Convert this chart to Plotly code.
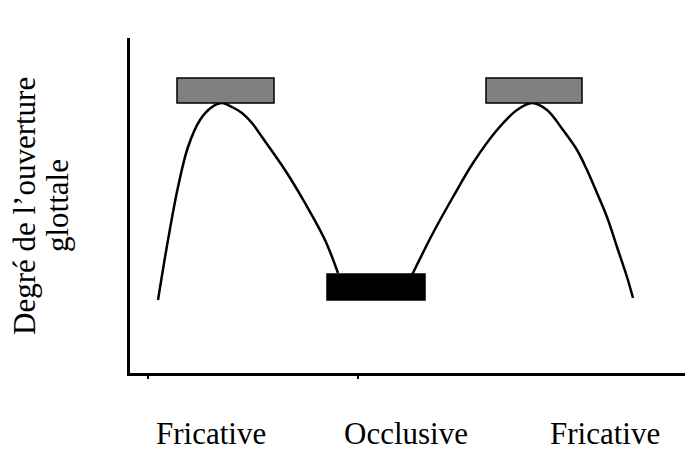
import plotly.graph_objects as go

# Curve points (x: time, y: degree of glottal opening)
left_x = [28, 38, 48, 58, 70, 82, 92, 102, 112, 122, 132, 155, 175, 195, 208]
left_y = [73, 133, 186, 226, 253, 266, 270, 266, 260, 250, 236, 203, 170, 133, 100]
right_x = [282, 303, 323, 343, 367, 387, 402, 417, 433, 447, 457, 467, 477, 487, 497, 503]
right_y = [98, 140, 176, 210, 243, 263, 270, 263, 243, 223, 203, 180, 156, 126, 96, 75]

# Rectangles: [x0, x1, y0, y1]
rect_x0 = [47, 197, 356]
rect_x1 = [144, 295, 452]
rect_y0 = [270, 73, 270]
rect_y1 = [295, 99, 295]
rect_fill = ["#808080", "#000000", "#808080"]

# Category labels along the bottom
cat_labels = ["Fricative", "Occlusive", "Fricative"]
cat_x = [81, 276, 475]
cat_y = -60

tick_vals = [18, 228]

ylabel_lines = ["Degré de l’ouverture", "glottale"]

FONT = "Liberation Serif, Times New Roman, serif"

XR = [0, 555]
YR = [0, 335]


def px(v):
    return (v - XR[0]) / (XR[1] - XR[0])


def py(v):
    return (v - YR[0]) / (YR[1] - YR[0])


fig = go.Figure()
for xs, ys in ((left_x, left_y), (right_x, right_y)):
    fig.add_trace(go.Scatter(x=xs, y=ys, mode="lines",
                             line=dict(color="black", width=2.5, shape="spline", smoothing=1.0),
                             hoverinfo="skip", showlegend=False, cliponaxis=False))

for x0, x1, y0, y1, c in zip(rect_x0, rect_x1, rect_y0, rect_y1, rect_fill):
    fig.add_shape(type="rect", x0=x0, x1=x1, y0=y0, y1=y1, xref="x", yref="y",
                  fillcolor=c, line=dict(color="black", width=1.5), layer="above")

for lab, x in zip(cat_labels, cat_x):
    fig.add_annotation(x=px(x), y=py(cat_y), xref="paper", yref="paper", text=lab,
                       showarrow=False, xanchor="center", yanchor="middle",
                       font=dict(family=FONT, size=31, color="black"))

fig.add_annotation(x=px(-106), y=py(167), xref="paper", yref="paper", text=ylabel_lines[0],
                   showarrow=False, textangle=-90, xanchor="center", yanchor="middle",
                   font=dict(family=FONT, size=31, color="black"))
fig.add_annotation(x=px(-73), y=py(167), xref="paper", yref="paper", text=ylabel_lines[1],
                   showarrow=False, textangle=-90, xanchor="center", yanchor="middle",
                   font=dict(family=FONT, size=31, color="black"))

fig.update_layout(
    width=695, height=455,
    margin=dict(l=122, r=18, t=30, b=90),
    paper_bgcolor="white", plot_bgcolor="white",
    xaxis=dict(range=XR, showgrid=False, zeroline=False, showline=True,
               linecolor="black", linewidth=2.5, tickvals=tick_vals, ticktext=["", ""],
               ticks="outside", ticklen=3, tickwidth=2, tickcolor="black", fixedrange=True),
    yaxis=dict(range=YR, showgrid=False, zeroline=False, showline=True,
               linecolor="black", linewidth=2.5, showticklabels=False, ticks="", fixedrange=True),
)

fig.write_html("out.html")
